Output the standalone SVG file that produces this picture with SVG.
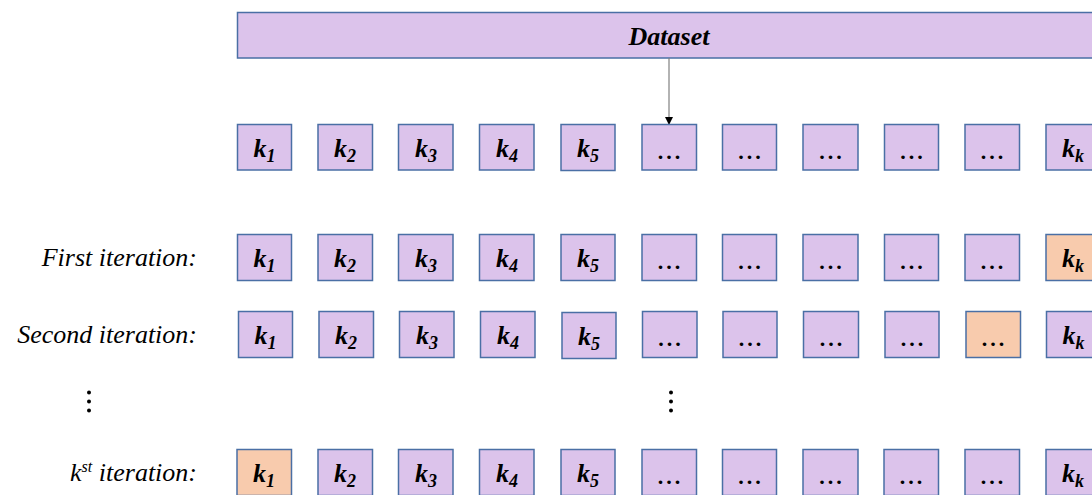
<svg xmlns="http://www.w3.org/2000/svg" width="1092" height="495" viewBox="0 0 1092 495">
<style>
text{font-family:"Liberation Serif","Times New Roman",Times,"DejaVu Serif","Noto Serif",serif}
.bx{fill:#DCC3EB;stroke:#4A6FA5;stroke-width:1.5}
.or{fill:#F8CBAD;stroke:#4A6FA5;stroke-width:1.5}
.k{font-weight:bold;font-style:italic;font-size:26px;fill:#000;text-anchor:middle}
.sub{font-size:18px}
.dots{font-weight:bold;font-size:22px;fill:#000;text-anchor:middle;letter-spacing:3px}
.lbl{font-style:italic;font-size:26px;fill:#000;text-anchor:end}
</style>
<defs>
<marker id="ah" markerWidth="8" markerHeight="8" refX="7" refY="4" orient="auto" markerUnits="userSpaceOnUse">
<path d="M0,0 L8,4 L0,8 Z" fill="#000"/>
</marker>
</defs>

<g id="dataset">
<rect class="bx" x="237.5" y="12.5" width="870" height="45.5"/>
<text x="669" y="45" font-weight="bold" font-style="italic" font-size="26" text-anchor="middle">Dataset</text>
</g>

<g id="connectors">
<line x1="669" y1="58" x2="669" y2="124" stroke="#808080" stroke-width="1.2" marker-end="url(#ah)"/>
</g>

<g id="labels">
<text class="lbl" x="197" y="266">First iteration:</text>
<text class="lbl" x="197" y="343">Second iteration:</text>
<text class="lbl" x="197" y="481">k<tspan font-size="16" dy="-9">st</tspan><tspan dy="9"> iteration:</tspan></text>
<circle cx="89" cy="392.5" r="2"/><circle cx="89" cy="401.5" r="2"/><circle cx="89" cy="410.5" r="2"/>
<circle cx="671" cy="392.5" r="2"/><circle cx="671" cy="401.5" r="2"/><circle cx="671" cy="410.5" r="2"/>
</g>

<g id="r0">
<g id="r0c1"><rect class="bx" x="237.5" y="124.5" width="54" height="45.5"/><text class="k" x="264.5" y="157">k<tspan class="sub" dy="5">1</tspan></text></g>
<g id="r0c2"><rect class="bx" x="318" y="124.5" width="54.5" height="45.5"/><text class="k" x="345" y="157">k<tspan class="sub" dy="5">2</tspan></text></g>
<g id="r0c3"><rect class="bx" x="398.5" y="124.5" width="54.5" height="45.5"/><text class="k" x="426" y="157">k<tspan class="sub" dy="5">3</tspan></text></g>
<g id="r0c4"><rect class="bx" x="479.5" y="124.5" width="54.5" height="45.5"/><text class="k" x="507" y="157">k<tspan class="sub" dy="5">4</tspan></text></g>
<g id="r0c5"><rect class="bx" x="561" y="124.5" width="54" height="46"/><text class="k" x="588" y="157">k<tspan class="sub" dy="5">5</tspan></text></g>
<g id="r0c6"><rect class="bx" x="642" y="124.5" width="54.5" height="45.5"/><text class="dots" x="670.5" y="159">...</text></g>
<g id="r0c7"><rect class="bx" x="722.5" y="124.5" width="54" height="45.5"/><text class="dots" x="751" y="159">...</text></g>
<g id="r0c8"><rect class="bx" x="803" y="124.5" width="55" height="45.5"/><text class="dots" x="832" y="159">...</text></g>
<g id="r0c9"><rect class="bx" x="884.5" y="124.5" width="54" height="45.5"/><text class="dots" x="913" y="159">...</text></g>
<g id="r0c10"><rect class="bx" x="965" y="124.5" width="54.5" height="45.5"/><text class="dots" x="993.5" y="159">...</text></g>
<g id="r0c11"><rect class="bx" x="1046" y="124.5" width="54" height="45.5"/><text class="k" x="1073" y="157">k<tspan class="sub" dy="5">k</tspan></text></g>
</g>

<g id="r1">
<g id="r1c1"><rect class="bx" x="237.5" y="234.5" width="54" height="46"/><text class="k" x="264.5" y="267">k<tspan class="sub" dy="5">1</tspan></text></g>
<g id="r1c2"><rect class="bx" x="318" y="234.5" width="54.5" height="46"/><text class="k" x="345" y="267">k<tspan class="sub" dy="5">2</tspan></text></g>
<g id="r1c3"><rect class="bx" x="398.5" y="234.5" width="54.5" height="46"/><text class="k" x="426" y="267">k<tspan class="sub" dy="5">3</tspan></text></g>
<g id="r1c4"><rect class="bx" x="479.5" y="234.5" width="54.5" height="46"/><text class="k" x="507" y="267">k<tspan class="sub" dy="5">4</tspan></text></g>
<g id="r1c5"><rect class="bx" x="561" y="234.5" width="54" height="46"/><text class="k" x="588" y="267">k<tspan class="sub" dy="5">5</tspan></text></g>
<g id="r1c6"><rect class="bx" x="642" y="234.5" width="54.5" height="46"/><text class="dots" x="670.5" y="269">...</text></g>
<g id="r1c7"><rect class="bx" x="722.5" y="234.5" width="54" height="46"/><text class="dots" x="751" y="269">...</text></g>
<g id="r1c8"><rect class="bx" x="803" y="234.5" width="55" height="46"/><text class="dots" x="832" y="269">...</text></g>
<g id="r1c9"><rect class="bx" x="884.5" y="234.5" width="54" height="46"/><text class="dots" x="913" y="269">...</text></g>
<g id="r1c10"><rect class="bx" x="965" y="234.5" width="54.5" height="46"/><text class="dots" x="993.5" y="269">...</text></g>
<g id="r1c11"><rect class="or" x="1046" y="234.5" width="54" height="46"/><text class="k" x="1073" y="267">k<tspan class="sub" dy="5">k</tspan></text></g>
</g>

<g id="r2">
<g id="r2c1"><rect class="bx" x="238.5" y="311.5" width="54" height="46"/><text class="k" x="265.5" y="344">k<tspan class="sub" dy="5">1</tspan></text></g>
<g id="r2c2"><rect class="bx" x="319" y="311.5" width="54.5" height="46"/><text class="k" x="346" y="344">k<tspan class="sub" dy="5">2</tspan></text></g>
<g id="r2c3"><rect class="bx" x="399.5" y="311.5" width="54.5" height="46"/><text class="k" x="427" y="344">k<tspan class="sub" dy="5">3</tspan></text></g>
<g id="r2c4"><rect class="bx" x="480.5" y="311.5" width="54.5" height="46"/><text class="k" x="508" y="344">k<tspan class="sub" dy="5">4</tspan></text></g>
<g id="r2c5"><rect class="bx" x="562" y="312.5" width="54" height="46"/><text class="k" x="589" y="345">k<tspan class="sub" dy="5">5</tspan></text></g>
<g id="r2c6"><rect class="bx" x="642.5" y="311.5" width="54.5" height="46"/><text class="dots" x="671" y="346">...</text></g>
<g id="r2c7"><rect class="bx" x="723" y="311.5" width="54" height="46"/><text class="dots" x="751.5" y="346">...</text></g>
<g id="r2c8"><rect class="bx" x="803.5" y="311.5" width="55" height="46"/><text class="dots" x="832.5" y="346">...</text></g>
<g id="r2c9"><rect class="bx" x="885" y="311.5" width="54" height="46"/><text class="dots" x="913.5" y="346">...</text></g>
<g id="r2c10"><rect class="or" x="966" y="311.5" width="54.5" height="46"/><text class="dots" x="994.5" y="346">...</text></g>
<g id="r2c11"><rect class="bx" x="1046.5" y="311.5" width="54" height="46"/><text class="k" x="1073.5" y="344">k<tspan class="sub" dy="5">k</tspan></text></g>
</g>

<g id="r3">
<g id="r3c1"><rect class="or" x="237" y="449.5" width="54.5" height="46"/><text class="k" x="264" y="482">k<tspan class="sub" dy="5">1</tspan></text></g>
<g id="r3c2"><rect class="bx" x="318" y="449.5" width="54.5" height="46"/><text class="k" x="345" y="482">k<tspan class="sub" dy="5">2</tspan></text></g>
<g id="r3c3"><rect class="bx" x="398.5" y="449.5" width="54.5" height="46"/><text class="k" x="426" y="482">k<tspan class="sub" dy="5">3</tspan></text></g>
<g id="r3c4"><rect class="bx" x="479.5" y="449.5" width="54.5" height="46"/><text class="k" x="507" y="482">k<tspan class="sub" dy="5">4</tspan></text></g>
<g id="r3c5"><rect class="bx" x="561" y="449.5" width="54" height="46"/><text class="k" x="588" y="482">k<tspan class="sub" dy="5">5</tspan></text></g>
<g id="r3c6"><rect class="bx" x="642" y="449.5" width="54.5" height="46"/><text class="dots" x="670.5" y="484">...</text></g>
<g id="r3c7"><rect class="bx" x="722.5" y="449.5" width="54" height="46"/><text class="dots" x="751" y="484">...</text></g>
<g id="r3c8"><rect class="bx" x="803" y="449.5" width="55" height="46"/><text class="dots" x="832" y="484">...</text></g>
<g id="r3c9"><rect class="bx" x="884" y="449.5" width="54.5" height="46"/><text class="dots" x="912.5" y="484">...</text></g>
<g id="r3c10"><rect class="bx" x="965" y="449.5" width="54.5" height="46"/><text class="dots" x="993.5" y="484">...</text></g>
<g id="r3c11"><rect class="bx" x="1046" y="449.5" width="54" height="46"/><text class="k" x="1073" y="482">k<tspan class="sub" dy="5">k</tspan></text></g>
</g>
</svg>
